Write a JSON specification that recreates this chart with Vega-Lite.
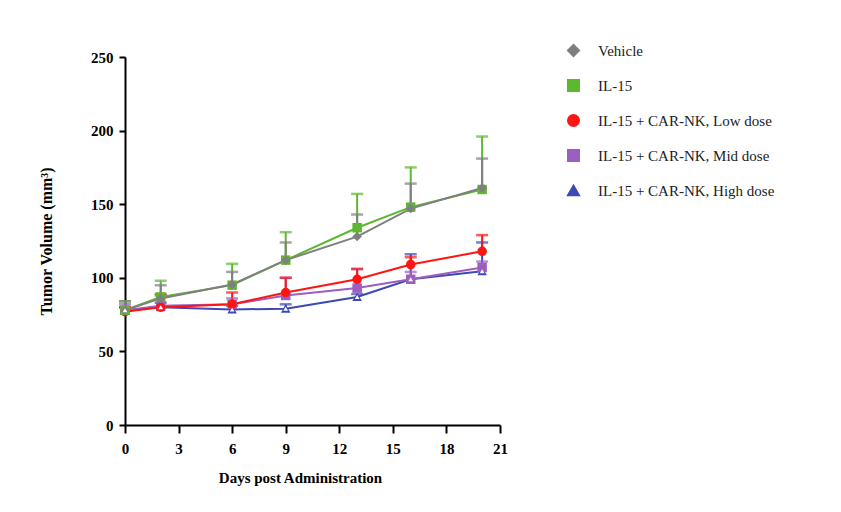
{
  "$schema": "https://vega.github.io/schema/vega-lite/v6.json",
  "width": 375,
  "height": 368,
  "autosize": {"type": "none"},
  "padding": {"left": 125, "top": 57, "right": 341, "bottom": 87},
  "background": "white",
  "config": {
    "view": {"stroke": null},
    "font": "Liberation Serif",
    "axis": {
      "domainColor": "black", "domainWidth": 2, "tickColor": "black", "tickWidth": 2,
      "labelFont": "Liberation Serif", "labelFontWeight": "bold", "labelFontSize": 15, "labelColor": "black",
      "titleFont": "Liberation Serif", "titleFontWeight": "bold", "titleFontSize": 15, "titleColor": "black",
      "grid": false
    }
  },
  "data": {
    "values": [
      {"s": "IL-15 + CAR-NK, High dose", "day": 0, "v": 78, "hi": 80},
      {"s": "IL-15 + CAR-NK, High dose", "day": 2, "v": 80, "hi": 83},
      {"s": "IL-15 + CAR-NK, High dose", "day": 6, "v": 78.5, "hi": 81},
      {"s": "IL-15 + CAR-NK, High dose", "day": 9, "v": 79, "hi": 82},
      {"s": "IL-15 + CAR-NK, High dose", "day": 13, "v": 87, "hi": 89},
      {"s": "IL-15 + CAR-NK, High dose", "day": 16, "v": 99, "hi": 116},
      {"s": "IL-15 + CAR-NK, High dose", "day": 20, "v": 104.5, "hi": 124},
      {"s": "IL-15 + CAR-NK, Mid dose", "day": 0, "v": 78, "hi": 82},
      {"s": "IL-15 + CAR-NK, Mid dose", "day": 2, "v": 81, "hi": 88},
      {"s": "IL-15 + CAR-NK, Mid dose", "day": 6, "v": 82, "hi": 86},
      {"s": "IL-15 + CAR-NK, Mid dose", "day": 9, "v": 88, "hi": 100},
      {"s": "IL-15 + CAR-NK, Mid dose", "day": 13, "v": 93, "hi": 106},
      {"s": "IL-15 + CAR-NK, Mid dose", "day": 16, "v": 99, "hi": 104},
      {"s": "IL-15 + CAR-NK, Mid dose", "day": 20, "v": 107, "hi": 111},
      {"s": "IL-15 + CAR-NK, Low dose", "day": 0, "v": 77, "hi": 80},
      {"s": "IL-15 + CAR-NK, Low dose", "day": 2, "v": 80, "hi": 89},
      {"s": "IL-15 + CAR-NK, Low dose", "day": 6, "v": 82, "hi": 90},
      {"s": "IL-15 + CAR-NK, Low dose", "day": 9, "v": 90, "hi": 100},
      {"s": "IL-15 + CAR-NK, Low dose", "day": 13, "v": 99, "hi": 106},
      {"s": "IL-15 + CAR-NK, Low dose", "day": 16, "v": 109, "hi": 114},
      {"s": "IL-15 + CAR-NK, Low dose", "day": 20, "v": 118, "hi": 129},
      {"s": "IL-15", "day": 0, "v": 78, "hi": 84},
      {"s": "IL-15", "day": 2, "v": 87, "hi": 98},
      {"s": "IL-15", "day": 6, "v": 95, "hi": 109.5},
      {"s": "IL-15", "day": 9, "v": 112, "hi": 131},
      {"s": "IL-15", "day": 13, "v": 134, "hi": 157},
      {"s": "IL-15", "day": 16, "v": 148, "hi": 175},
      {"s": "IL-15", "day": 20, "v": 160, "hi": 196},
      {"s": "Vehicle", "day": 0, "v": 78, "hi": 84},
      {"s": "Vehicle", "day": 2, "v": 86, "hi": 95},
      {"s": "Vehicle", "day": 6, "v": 95.5, "hi": 104},
      {"s": "Vehicle", "day": 9, "v": 112, "hi": 124},
      {"s": "Vehicle", "day": 13, "v": 128, "hi": 143},
      {"s": "Vehicle", "day": 16, "v": 147, "hi": 164},
      {"s": "Vehicle", "day": 20, "v": 161, "hi": 181}
    ]
  },
  "encoding": {
    "x": {
      "field": "day", "type": "quantitative",
      "scale": {"domain": [0, 21], "nice": false, "zero": false},
      "axis": {"values": [0, 3, 6, 9, 12, 15, 18, 21], "title": "Days post Administration", "tickSize": 8, "labelPadding": 8, "titlePadding": 14, "titleX": 175, "labelFlush": false}
    },
    "color": {
      "field": "s", "type": "nominal",
      "scale": {
        "domain": ["Vehicle", "IL-15", "IL-15 + CAR-NK, Low dose", "IL-15 + CAR-NK, Mid dose", "IL-15 + CAR-NK, High dose"],
        "range": ["#7f7f7f", "#5cb82e", "#ff1414", "#9b5fc0", "#3c48b4"]
      },
      "legend": {
        "title": null, "orient": "none", "legendX": 441, "legendY": -14,
        "labelFont": "Liberation Serif", "labelFontSize": 15, "labelColor": "#222222", "labelLimit": 0,
        "symbolSize": 121, "labelOffset": 17, "rowPadding": 16,
        "encode": {
          "symbols": {
            "update": {
              "strokeWidth": {"value": 2},
              "opacity": {"value": 1}
            }
          }
        }
      }
    }
  },
  "layer": [
    {
      "mark": {"type": "rule", "strokeWidth": 2},
      "encoding": {
        "y": {"field": "v", "type": "quantitative", "scale": {"domain": [0, 250], "nice": false},
              "axis": {"values": [0, 50, 100, 150, 200, 250], "title": "Tumor Volume (mm³)", "tickSize": 6, "labelPadding": 6, "titlePadding": 36, "titleFontSize": 16, "labelFlush": false}},
        "y2": {"field": "hi"}
      }
    },
    {
      "mark": {"type": "tick", "orient": "horizontal", "thickness": 2.5, "size": 12},
      "encoding": {"y": {"field": "hi", "type": "quantitative"}}
    },
    {
      "mark": {"type": "line", "strokeWidth": 2},
      "encoding": {"y": {"field": "v", "type": "quantitative"}}
    },
    {
      "mark": {"type": "point", "filled": true, "size": 90, "opacity": 1},
      "encoding": {
        "y": {"field": "v", "type": "quantitative"},
        "shape": {
          "field": "s", "type": "nominal", "legend": null,
          "scale": {
            "domain": ["Vehicle", "IL-15", "IL-15 + CAR-NK, Low dose", "IL-15 + CAR-NK, Mid dose", "IL-15 + CAR-NK, High dose"],
            "range": ["diamond", "square", "circle", "square", "triangle-up"]
          }
        }
      }
    },
    {
      "transform": [{"filter": "datum.s === 'IL-15 + CAR-NK, High dose'"}],
      "mark": {"type": "point", "filled": true, "size": 22, "shape": "triangle-up", "opacity": 1},
      "encoding": {
        "y": {"field": "v", "type": "quantitative"},
        "color": {"value": "white"}
      }
    }
  ]
}
